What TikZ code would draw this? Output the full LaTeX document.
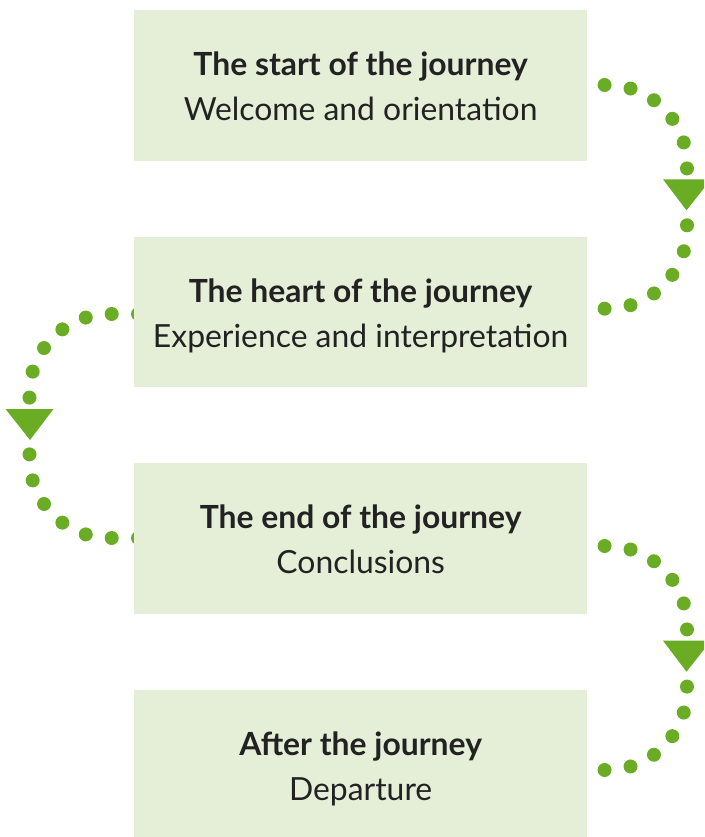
\documentclass[tikz,border=0pt]{standalone}
\usepackage{fontspec}
\setmainfont{Lato}
\usetikzlibrary{calc,backgrounds}
\definecolor{boxfill}{RGB}{229,239,216}
\definecolor{leaf}{RGB}{106,173,36}
\definecolor{ink}{RGB}{34,34,34}
\begin{document}
\begin{tikzpicture}[x=0.75pt,y=-0.75pt,
  stage/.style={fill=boxfill, draw=none, inner sep=0pt,
    minimum width=340pt, minimum height=113pt},
  dotpath/.style={draw=leaf, line width=10.5pt, line cap=round,
    dash pattern=on 0pt off 19.725pt, rounded corners=60pt},
  title/.style={font=\bfseries\fontsize{23.9}{29}\selectfont, text=ink,
    anchor=base, inner sep=0pt},
  subtitle/.style={font=\fontsize{23.9}{29}\selectfont, text=ink,
    anchor=base, inner sep=0pt},
  tiphead/.style={fill=leaf, draw=none}
]
\clip (0,0) rectangle (704,837);

% stage boxes
\node[stage] (b1) at (360.65,85.35) {};
\node[stage] (b2) at (360.65,312) {};
\node[stage] (b3) at (360.65,538.7) {};
\node[stage] (b4) at (360.65,765.35) {};

% turning points of the three loops
\coordinate (m1) at (687,196.85);
\coordinate (m2) at (29.5,426);
\coordinate (m3) at (687,658);

% dotted loops, behind the boxes
\begin{scope}[on background layer]
  \draw[dotpath] ($(b1.east)+(-9.3,-0.35)$) -| ($(m1)+(0,-17)$);
  \draw[dotpath] ($(b2.east)+(-9.3,-3.3)$) -| ($(m1)+(0,17)$);
  \draw[dotpath] ($(b2.west)+(4.3,2)$) -| ($(m2)+(0,-17)$);
  \draw[dotpath] ($(b3.west)+(4.3,-0.7)$) -| ($(m2)+(0,17)$);
  \draw[dotpath] ($(b3.east)+(-9.3,7.3)$) -| ($(m3)+(0,-17)$);
  \draw[dotpath] ($(b4.east)+(-9.3,4.65)$) -| ($(m3)+(0,17)$);
\end{scope}

% arrow heads
\fill[tiphead] ($(m1)+(-24,-17.5)$) -- ($(m1)+(24,-17.5)$) -- ($(m1)+(-0.5,13.5)$) -- cycle;
\fill[tiphead] ($(m2)+(-24,-17)$) -- ($(m2)+(24,-17)$) -- ($(m2)+(0.5,14)$) -- cycle;
\fill[tiphead] ($(m3)+(-24,-17.3)$) -- ($(m3)+(24,-17.3)$) -- ($(m3)+(-0.5,13.7)$) -- cycle;

% labels
\node[title] (t1) at ($(b1.center)+(0,-9.85)$) {The start of the journey};
\node[subtitle] (s1) at ($(b1.center)+(0,35.15)$) {Welcome and orientation};
\node[title] (t2) at ($(b2.center)+(0,-9.85)$) {The heart of the journey};
\node[subtitle] (s2) at ($(b2.center)+(0,35.15)$) {Experience and interpretation};
\node[title] (t3) at ($(b3.center)+(0,-9.85)$) {The end of the journey};
\node[subtitle] (s3) at ($(b3.center)+(0,35.15)$) {Conclusions};
\node[title] (t4) at ($(b4.center)+(0,-9.85)$) {After the journey};
\node[subtitle] (s4) at ($(b4.center)+(0,35.15)$) {Departure};
\end{tikzpicture}
\end{document}
